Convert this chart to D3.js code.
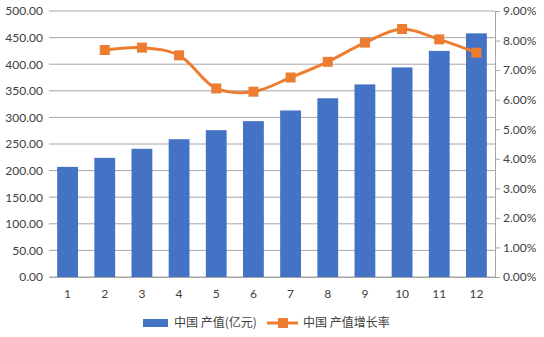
<!DOCTYPE html>
<html>
<head>
<meta charset="utf-8">
<script src="https://cdn.jsdelivr.net/npm/d3@7"></script>
<style>
  body { margin: 0; background: #fff; }
  svg { display: block; }
  .axis text { font-family: Lato, 'Noto Sans CJK SC', sans-serif; font-size: 12px; fill: #404040; }
</style>
</head>
<body>
<div id="chart"></div>
<script>
// data
const months = ['1', '2', '3', '4', '5', '6', '7', '8', '9', '10', '11', '12'];
const outputValue = [207, 224, 241, 259, 276, 293, 313, 336, 362, 394, 425, 458];
const growthRate = [null, 7.68, 7.76, 7.5, 6.38, 6.27, 6.75, 7.28, 7.93, 8.39, 8.04, 7.59];
const leftTicks = [0, 50, 100, 150, 200, 250, 300, 350, 400, 450, 500];
const rightTicks = [0, 1, 2, 3, 4, 5, 6, 7, 8, 9];
const seriesNames = ['中国 产值(亿元)', '中国 产值增长率'];

const W = 544, H = 337;
const margin = { top: 11, right: 49, bottom: 60, left: 49 };
const width = W - margin.left - margin.right;
const height = H - margin.top - margin.bottom;

const svg = d3.select('#chart').append('svg')
  .attr('width', W)
  .attr('height', H);

const g = svg.append('g')
  .attr('transform', `translate(${margin.left},${margin.top})`);

const x = d3.scaleBand().domain(months).range([0, width]).paddingInner(0.44).paddingOuter(0.22);
const xPoint = d => x(d) + x.bandwidth() / 2;
const yL = d3.scaleLinear().domain([0, 500]).range([height, 0]);
const yR = d3.scaleLinear().domain([0, 9]).range([height, 0]);

// gridlines
g.append('g')
  .selectAll('line')
  .data(leftTicks)
  .join('line')
  .attr('x1', 0)
  .attr('x2', width)
  .attr('y1', d => yL(d))
  .attr('y2', d => yL(d))
  .attr('stroke', '#a6a6a6')
  .attr('stroke-width', 1);

// left axis, no line
const leftAxis = g.append('g')
  .attr('class', 'axis')
  .call(d3.axisLeft(yL).tickValues(leftTicks).tickSize(0).tickPadding(6).tickFormat(d3.format('.2f')));
leftAxis.select('.domain').remove();

// right axis
const rightAxis = g.append('g')
  .attr('class', 'axis')
  .attr('transform', `translate(${width},0)`)
  .call(d3.axisRight(yR).tickValues(rightTicks).tickSize(5).tickPadding(3).tickFormat(d => d.toFixed(2) + '%'));
rightAxis.selectAll('line, path').attr('stroke', '#a6a6a6');

// bars
g.append('g')
  .selectAll('rect')
  .data(outputValue)
  .join('rect')
  .attr('x', (d, i) => x(months[i]))
  .attr('y', d => yL(d))
  .attr('width', x.bandwidth())
  .attr('height', d => height - yL(d))
  .attr('fill', '#4472c4');

// bottom axis
const bottomAxis = g.append('g')
  .attr('class', 'axis')
  .attr('transform', `translate(0,${height})`)
  .call(d3.axisBottom(x).tickSize(0).tickPadding(12));
bottomAxis.select('.domain').attr('stroke', '#a6a6a6');

// growth line
const pts = growthRate.map((v, i) => ({ m: months[i], v })).filter(d => d.v !== null);
const line = d3.line()
  .x(d => xPoint(d.m))
  .y(d => yR(d.v))
  .curve(d3.curveCatmullRom.alpha(0.5));

g.append('path')
  .datum(pts)
  .attr('d', line)
  .attr('fill', 'none')
  .attr('stroke', '#ed7d31')
  .attr('stroke-width', 3);

g.append('g')
  .selectAll('rect')
  .data(pts)
  .join('rect')
  .attr('x', d => xPoint(d.m) - 5)
  .attr('y', d => yR(d.v) - 5)
  .attr('width', 10)
  .attr('height', 10)
  .attr('fill', '#ed7d31');

// legend
const legend = svg.append('g').attr('transform', 'translate(0,323)');
legend.append('rect')
  .attr('x', 143).attr('y', -4).attr('width', 25).attr('height', 8)
  .attr('fill', '#4472c4');
legend.append('text')
  .attr('x', 174).attr('y', 0).attr('dy', '0.35em')
  .style('font-family', "'Noto Sans CJK SC', sans-serif").style('font-size', '12px')
  .attr('fill', '#404040')
  .text(seriesNames[0]);
legend.append('line')
  .attr('x1', 267).attr('x2', 298).attr('y1', 0).attr('y2', 0)
  .attr('stroke', '#ed7d31').attr('stroke-width', 3);
legend.append('rect')
  .attr('x', 278).attr('y', -5).attr('width', 10).attr('height', 10)
  .attr('fill', '#ed7d31');
legend.append('text')
  .attr('x', 303).attr('y', 0).attr('dy', '0.35em')
  .style('font-family', "'Noto Sans CJK SC', sans-serif").style('font-size', '12px')
  .attr('fill', '#404040')
  .text(seriesNames[1]);
</script>
</body>
</html>
